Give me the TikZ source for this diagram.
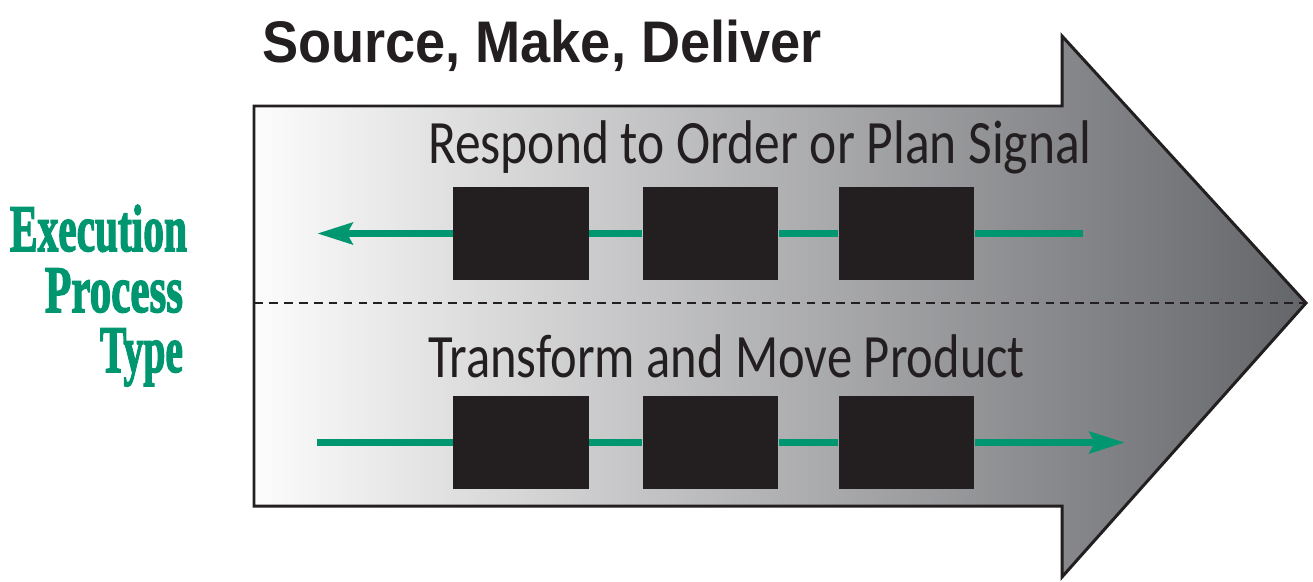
\documentclass[tikz,border=0pt]{standalone}
\usepackage{fontspec}
\setmainfont{Liberation Sans}
\newfontfamily\bodyfont{Carlito}
\newfontfamily\titlefont{Liberation Sans}
\newfontfamily\greenfont{Liberation Serif}[BoldFeatures={FakeBold=2.5}]
\usetikzlibrary{arrows.meta}
\definecolor{ink}{HTML}{231F20}
\definecolor{scorgreen}{RGB}{0,150,112}
\definecolor{shadeL}{RGB}{252,252,252}
\definecolor{shadeM}{RGB}{196,197,200}
\definecolor{shadeR}{RGB}{100,101,105}
\tikzset{
  txt/.style={inner sep=0pt, outer sep=0pt, text=ink},
  greentxt/.style={inner sep=0pt, outer sep=0pt, text=scorgreen, anchor=base east,
     font=\greenfont\bfseries\fontsize{37.8}{40}\selectfont},
  blockbox/.style={fill=ink, draw=none, minimum width=2.72cm, minimum height=1.86cm, inner sep=0pt},
  flow/.style={draw=scorgreen, line width=4.5pt},
  flowarrow/.style={flow, -{Stealth[length=20pt, width=12pt, inset=3pt]}},
}
\begin{document}
\begin{tikzpicture}[x=0.02cm, y=-0.02cm]
\useasboundingbox (0,0) rectangle (1313,582);
% big arrow
\shade[left color=shadeL, middle color=shadeM, right color=shadeR]
  (254,106) -- (1062,106) -- (1062,36) -- (1306,303) -- (1062,577) -- (1062,506) -- (254,506) -- cycle;
\draw[ink, line width=1.7pt, line join=miter]
  (254,106) -- (1062,106) -- (1062,36) -- (1306,303) -- (1062,577) -- (1062,506) -- (254,506) -- cycle;
% dashed divider
\coordinate (dL) at (254,303);
\coordinate (dR) at (1304,303);
\draw[ink, line width=1.4pt, dash pattern=on 5pt off 3.5pt] (dL) -- (dR);
% title
\node[txt, anchor=base west] (title) at (262,62)
  {\resizebox{11.2cm}{\height}{\titlefont\bfseries\fontsize{33.4}{36}\selectfont Source, Make, Deliver}};
% section labels
\node[txt, anchor=base west] (respond) at (428,163)
  {\resizebox{13.28cm}{\height}{\bodyfont\fontsize{35.1}{38}\selectfont Respond to Order or Plan Signal}};
\node[txt, anchor=base west] (transform) at (428,377)
  {\resizebox{11.94cm}{\height}{\bodyfont\fontsize{35.1}{38}\selectfont Transform and Move Product}};
% left label
\node[greentxt] (exec1) at (187,251) {\resizebox{3.54cm}{\height}{Execution}};
\node[greentxt] (exec2) at (183,312) {\resizebox{2.76cm}{\height}{Process}};
\node[greentxt] (exec3) at (183,372) {\resizebox{1.66cm}{\height}{Type}};
% upper row
\node[blockbox] (u1) at (521,233.5) {};
\node[blockbox] (u2) at (710.5,233.5) {};
\node[blockbox] (u3) at (906.5,233.5) {};
\coordinate (uR) at (1083,233.5);
\coordinate (uL) at (317,233.5);
\draw[flow] (uR) -- (u3.east);
\draw[flow] (u3.west) -- (u2.east);
\draw[flow] (u2.west) -- (u1.east);
\draw[flowarrow] (u1.west) -- (uL);
% lower row
\node[blockbox] (l1) at (521,442.5) {};
\node[blockbox] (l2) at (710.5,442.5) {};
\node[blockbox] (l3) at (906.5,442.5) {};
\coordinate (lL) at (317,442.5);
\coordinate (lR) at (1125,442.5);
\draw[flow] (lL) -- (l1.west);
\draw[flow] (l1.east) -- (l2.west);
\draw[flow] (l2.east) -- (l3.west);
\draw[flowarrow] (l3.east) -- (lR);
\end{tikzpicture}
\end{document}
